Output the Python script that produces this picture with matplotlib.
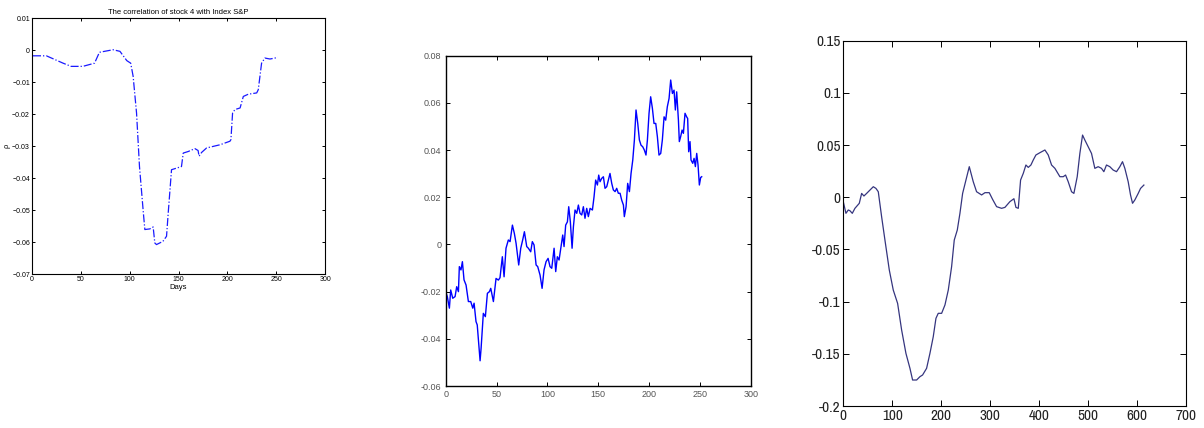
import matplotlib
matplotlib.use("Agg")
import matplotlib.pyplot as plt
from matplotlib import font_manager

# Panel 1: correlation of stock 4 with S&P (dash-dot)
days1 = [1, 14.7, 31.8, 40, 52, 64, 69, 83, 90, 97, 101, 103.5, 107, 110, 114, 115.5,
         120.6, 124, 125.7, 127.4, 134, 137.7, 139.4, 142.8, 148, 153, 154.8, 160,
         166.7, 170, 171, 173.6, 178.7, 192.5, 202.6, 203.6, 205.3, 207.7, 213, 216.3,
         221.4, 230, 231.6, 235, 238.4, 243.6, 248.7, 251.5]
rho1 = [-0.0018, -0.0018, -0.0041, -0.0051, -0.0051, -0.0041, -0.0007, 0.0001, -0.0004,
        -0.0033, -0.0041, -0.0082, -0.0197, -0.0364, -0.051, -0.0561, -0.0559, -0.0553,
        -0.0603, -0.0608, -0.0598, -0.0582, -0.051, -0.0374, -0.0369, -0.0364, -0.0322,
        -0.0317, -0.0308, -0.0314, -0.0332, -0.032, -0.0306, -0.0296, -0.0285, -0.028,
        -0.0197, -0.0186, -0.0181, -0.0145, -0.0138, -0.0134, -0.0124, -0.0041, -0.0025,
        -0.0028, -0.0025, -0.0022]

# Panel 2: noisy series
days2 = [0, 1.6, 3.6, 4.9, 6.9, 9.2, 10.8, 12.5, 13.4, 15, 16.4, 18, 20, 22.3, 24.6,
         26.6, 27.9, 29.8, 31, 33.8, 34.8, 37, 39, 41, 43, 44.3, 46.9, 49.5, 51.8, 53.4,
         55.7, 57.4, 59.3, 61.6, 63.3, 65.6, 67.5, 69.2, 71.8, 73.8, 75.7, 77.4, 79.7,
         81.3, 83.6, 85.2, 86.9, 88.9, 90.5, 92.8, 94.8, 96.7, 98.7, 100.7, 102.6, 104.3,
         106.6, 108.2, 109.8, 111.5, 113.4, 115.1, 116.4, 118, 119.7, 121, 122.6, 124.3,
         125.6, 127.2, 128.9, 130.5, 132.1, 133.8, 135.4, 137, 138.7, 140.3, 142, 144.3,
         145.9, 147.5, 149.2, 150.5, 151.8, 153.4, 155.1, 156.7, 158.4, 160, 161.6, 163.3,
         164.9, 166.6, 168.2, 169.8, 171.5, 173.1, 174.8, 175.7, 177.4, 179, 180.7, 182.3,
         184, 185.6, 187.2, 188.9, 190.5, 192.1, 193.8, 195.4, 197, 198.4, 200, 201.6,
         203.3, 204.9, 206.6, 208.2, 209.8, 211.5, 213.1, 214.8, 216.4, 218, 219.7, 221.3,
         223, 224.6, 225.9, 227.2, 228.9, 229.8, 231.1, 232.5, 233.8, 235.4, 237, 238, 239,
         240.3, 241.3, 243, 244.3, 245.6, 246.9, 248.2, 249.5, 250.8, 251.8]
vals2 = [-0.020, -0.0222, -0.027, -0.0193, -0.0228, -0.0221, -0.0179, -0.020, -0.0094,
         -0.0108, -0.0073, -0.015, -0.0172, -0.0242, -0.0242, -0.027, -0.0249, -0.0327,
         -0.0341, -0.0493, -0.044, -0.0292, -0.0306, -0.0207, -0.020, -0.0186, -0.0242,
         -0.0144, -0.0151, -0.0141, -0.0052, -0.0137, -0.0016, 0.0019, 0.0012, 0.0082,
         0.0047, 0.0005, -0.0087, -0.0016, 0.0019, 0.0054, -0.0009, -0.0016, -0.0031,
         0.0012, -0.0002, -0.0087, -0.0094, -0.013, -0.0186, -0.0108, -0.0073, -0.0059,
         -0.0094, -0.0101, -0.0016, -0.0115, -0.0052, -0.0066, -0.0009, 0.004, -0.0009,
         0.0082, 0.0096, 0.016, 0.0096, -0.0016, 0.0075, 0.0146, 0.0132, 0.0167, 0.0132,
         0.0125, 0.016, 0.0111, 0.0153, 0.0118, 0.0153, 0.0146, 0.0202, 0.0273, 0.0252,
         0.0294, 0.0266, 0.028, 0.0287, 0.0238, 0.0245, 0.0273, 0.0301, 0.0259, 0.0231,
         0.0224, 0.0238, 0.0217, 0.0217, 0.0188, 0.0167, 0.0118, 0.016, 0.0259, 0.0224,
         0.0301, 0.0358, 0.0443, 0.057, 0.0513, 0.0443, 0.0421, 0.0414, 0.04, 0.0379,
         0.0443, 0.0556, 0.0626, 0.0577, 0.0513, 0.0513, 0.0457, 0.0379, 0.0386, 0.0443,
         0.0541, 0.0527, 0.0584, 0.0619, 0.0697, 0.064, 0.0654, 0.057, 0.0647, 0.0527,
         0.0436, 0.0457, 0.0485, 0.0471, 0.0556, 0.0541, 0.0534, 0.0393, 0.0436, 0.0358,
         0.0344, 0.0365, 0.033, 0.0386, 0.0337, 0.0252, 0.0284, 0.0287]

# Panel 3: smoother series over ~615 days
days3 = [0, 5.4, 10.2, 13.6, 18.4, 23.8, 32.7, 37.5, 42.2, 47.7, 54.5, 61.3, 66.7, 71.5,
         78.3, 85.1, 94, 102.1, 111, 119.2, 128, 136.2, 141.6, 149.8, 156.6, 162, 170.2,
         177, 183.8, 189.3, 194, 200.9, 207.7, 214.5, 221.3, 226.7, 232.9, 238.3, 243.8,
         250.6, 257.4, 265.5, 272.3, 282.6, 289.4, 298.2, 305, 313.2, 323.4, 330.2, 340.4,
         348.6, 352.7, 357.5, 362.2, 367.7, 373.1, 377.9, 383.3, 388.1, 393.5, 401.7,
         411.9, 418.7, 425.5, 432.3, 442.5, 449.3, 454.1, 459.5, 466.3, 471.1, 477.9,
         483.3, 488.8, 493.5, 500.3, 507.1, 513.9, 520.7, 527.5, 532.3, 537.7, 544.5,
         551.3, 558.2, 565, 570.4, 575.2, 582, 586.8, 590.9, 595.6, 602.5, 607.3, 614.1]
vals3 = [-0.0042, -0.0154, -0.0122, -0.0129, -0.0154, -0.0106, -0.0058, 0.0037, 0.0012,
         0.0037, 0.0069, 0.0101, 0.0085, 0.0053, -0.0186, -0.041, -0.0697, -0.0889,
         -0.1017, -0.1272, -0.1496, -0.1639, -0.1751, -0.1751, -0.1719, -0.1703, -0.1639,
         -0.1496, -0.1336, -0.116, -0.1112, -0.1112, -0.1032, -0.0889, -0.0665, -0.041,
         -0.0314, -0.0154, 0.0037, 0.0165, 0.0293, 0.0149, 0.0053, 0.0022, 0.0044, 0.0044,
         -0.002, -0.009, -0.0106, -0.0097, -0.0042, -0.0014, -0.0097, -0.0106, 0.0165,
         0.0229, 0.0309, 0.0286, 0.0309, 0.0357, 0.0405, 0.0427, 0.0453, 0.0405, 0.0309,
         0.0277, 0.0197, 0.0197, 0.0213, 0.0149, 0.0053, 0.0037, 0.0197, 0.042, 0.0596,
         0.0548, 0.0484, 0.042, 0.0277, 0.0293, 0.0277, 0.0245, 0.0309, 0.0293, 0.0261,
         0.0245, 0.0293, 0.0341, 0.0277, 0.0149, 0.0022, -0.0058, -0.0026, 0.0037, 0.0085,
         0.0117]

xticks1 = [0, 50, 100, 150, 200, 250, 300]
yticks1 = [0.01, 0, -0.01, -0.02, -0.03, -0.04, -0.05, -0.06, -0.07]
xticks2 = [0, 50, 100, 150, 200, 250, 300]
yticks2 = [0.08, 0.06, 0.04, 0.02, 0, -0.02, -0.04, -0.06]
xticks3 = [0, 100, 200, 300, 400, 500, 600, 700]
yticks3 = [0.15, 0.1, 0.05, 0, -0.05, -0.1, -0.15, -0.2]

plt.rcParams['font.family'] = ['Liberation Sans', 'DejaVu Sans']

# pick a narrow face for the matlab-style labels, if there is one
names = {f.name for f in font_manager.fontManager.ttflist}
narrow = 'Liberation Sans'
for cand in ['Liberation Sans Narrow', 'Arial Narrow', 'Archivo Narrow']:
    if cand in names:
        narrow = cand
        break


def fmt(v):
    return '%g' % v


def matlab_axes(ax, lw=0.8):
    ax.tick_params(direction='in', top=True, right=True, length=3, width=0.7)
    for sp in ax.spines.values():
        sp.set_linewidth(lw)


fig = plt.figure(figsize=(12.04, 4.28), dpi=100)

# Panel 1
ax1 = fig.add_axes([0.0266, 0.3598, 0.2434, 0.598])
ax1.plot(days1, rho1, color='#1a1aff', linestyle='-.', linewidth=0.9)
ax1.set_xlim(0, 300)
ax1.set_ylim(-0.07, 0.01)
ax1.set_xticks(xticks1)
ax1.set_yticks(yticks1)
ax1.set_xticklabels([fmt(v) for v in xticks1], fontsize=5)
ax1.set_yticklabels([fmt(v).replace('-', '\u2212') for v in yticks1], fontsize=5)
ax1.set_title('The correlation of stock 4 with Index S&P', fontsize=5.5, pad=3)
ax1.set_xlabel('Days', fontsize=5.5, labelpad=1)
ax1.set_ylabel('\u03c1', fontsize=5.5, labelpad=1)
matlab_axes(ax1)
ax1.tick_params(pad=1.5, length=2.5)

# Panel 2
ax2 = fig.add_axes([0.3702, 0.0981, 0.2533, 0.7717])
ax2.plot(days2, vals2, color='#0000ff', linewidth=1.0)
ax2.set_xlim(0, 300)
ax2.set_ylim(-0.06, 0.08)
ax2.set_xticks(xticks2)
ax2.set_yticks(yticks2)
ax2.set_xticklabels([fmt(v) for v in xticks2], fontsize=6.5, color='#555555')
ax2.set_yticklabels([fmt(v) for v in yticks2], fontsize=6.5, color='#555555')
matlab_axes(ax2, lw=1.0)
ax2.tick_params(pad=3)

# Panel 3
ax3 = fig.add_axes([0.7004, 0.0514, 0.2846, 0.8535])
ax3.plot(days3, vals3, color='#35357f', linewidth=0.9)
ax3.set_xlim(0, 700)
ax3.set_ylim(-0.2, 0.15)
ax3.set_xticks(xticks3)
ax3.set_yticks(yticks3)
ax3.set_xticklabels([fmt(v) for v in xticks3], fontsize=11, family=narrow, color='#222222')
ax3.set_yticklabels([fmt(v) for v in yticks3], fontsize=11, family=narrow, color='#222222')
matlab_axes(ax3, lw=0.8)
ax3.tick_params(pad=2, length=4)

fig.savefig('out.png', dpi=100)
